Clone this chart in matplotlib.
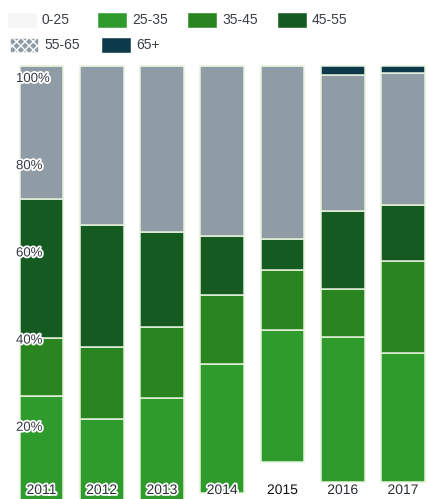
import matplotlib
matplotlib.use("Agg")
import matplotlib.pyplot as plt
import matplotlib.patheffects as pe
from matplotlib.patches import Rectangle

plt.rcParams['font.family'] = ['Liberation Sans', 'DejaVu Sans']

# Share of each age group per year (%), stacked bottom to top
years = ["2011", "2012", "2013", "2014", "2015", "2016", "2017"]
age_groups = ["0-25", "25-35", "35-45", "45-55", "55-65", "65+"]
share_0_25 = [0.0, 0.0, 0.0, 2.1, 9.2, 4.6, 4.6]
share_25_35 = [24.3, 19.0, 23.9, 29.6, 30.2, 33.2, 29.6]
share_35_45 = [13.3, 16.6, 16.2, 15.8, 13.8, 11.1, 21.1]
share_45_55 = [31.9, 27.9, 21.8, 13.5, 7.1, 17.8, 12.8]
share_55_65 = [30.5, 36.5, 38.1, 39.0, 39.7, 31.2, 30.3]
share_65_plus = [0.0, 0.0, 0.0, 0.0, 0.0, 2.1, 1.6]
y_ticks = [20, 40, 60, 80, 100]

series = [share_0_25, share_25_35, share_35_45, share_45_55, share_55_65, share_65_plus]
colors = ["#f6f6f6", "#2f9b2c", "#2a8520", "#155a20", "#8f9ca5", "#0d3a4b"]
bar_fill = ["#ffffff"] + colors[1:]

W, H = 429, 499
fig = plt.figure(figsize=(W / 100, H / 100), dpi=100)
ax = fig.add_axes([0, 0, 1, 1])

# axis scaling: 100% sits 66 px from the top, 0% slightly below the bottom edge
px_per_pct = 4.36
zero_px = 502
pitch = 60.25
first_center = 41.5
ax.set_ylim((zero_px - H) / px_per_pct, zero_px / px_per_pct)
ax.set_xlim(-first_center / pitch, (W - first_center) / pitch)
ax.axis("off")

x = list(range(len(years)))
bottom = [0.0] * len(years)
for i, (vals, col) in enumerate(zip(series, bar_fill)):
    ax.bar(x, vals, bottom=bottom, width=0.73, color=col,
           edgecolor="none" if i == 0 else "#e6f2dc", linewidth=1.1,
           zorder=2)
    bottom = [b + v for b, v in zip(bottom, vals)]

halo = [pe.withStroke(linewidth=2.6, foreground="white")]

# percentage labels drawn inside the first column
for t in y_ticks:
    ax.annotate(f"{t}%", xy=(0, t), xycoords=("figure pixels", "data"),
                xytext=(16, -13), textcoords="offset pixels",
                ha="left", va="center", fontsize=9.5, color="#343a3f",
                path_effects=halo, zorder=5)

# year labels along the bottom
for xi, yr in zip(x, years):
    ax.annotate(yr, xy=(xi, 0), xycoords=("data", "figure pixels"),
                xytext=(0, 9), textcoords="offset pixels",
                ha="center", va="center", fontsize=10,
                color="#111111" if yr == "2015" else "#2a2f34",
                path_effects=halo, zorder=5)

# legend: four entries on the first row, two on the second
for i, (name, col) in enumerate(zip(age_groups, colors)):
    row, c = divmod(i, 4)
    x0 = (8 if row == 0 else 10) + c * (90 if row == 0 else 92)
    yc = H - (20 if row == 0 else 45)
    sw = Rectangle((x0 / W, (yc - 7) / H), 28 / W, 14 / H,
                   transform=fig.transFigure, facecolor=col,
                   edgecolor="white" if name == "55-65" else col,
                   hatch="xxxx" if name == "55-65" else None,
                   linewidth=0.4)
    fig.add_artist(sw)
    fig.text((x0 + 34) / W, yc / H, name, ha="left", va="center",
             fontsize=10, color="#3a3f44")

fig.savefig("out.png", dpi=100)
